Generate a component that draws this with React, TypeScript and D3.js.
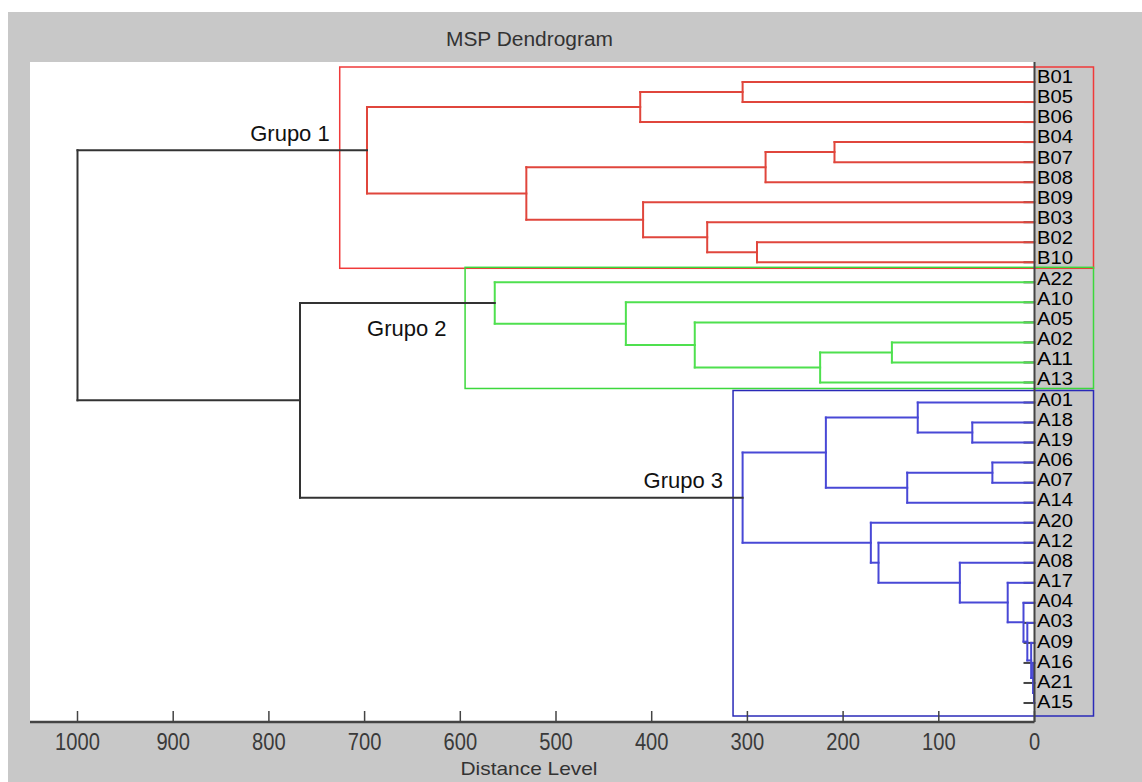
import React, { useMemo } from "react";
import * as d3 from "d3";

// leaf order, top to bottom
const leafNames = [
  "B01", "B05", "B06", "B04", "B07", "B08", "B09", "B03", "B02", "B10",
  "A22", "A10", "A05", "A02", "A11", "A13",
  "A01", "A18", "A19", "A06", "A07", "A14", "A20", "A12", "A08", "A17",
  "A04", "A03", "A09", "A16", "A21", "A15",
];

// merges: [id, left, right, distance]
const linkage: [string, string, string, number][] = [
  ["b1", "B01", "B05", 305],
  ["b2", "b1", "B06", 412],
  ["b3", "B04", "B07", 209],
  ["b4", "b3", "B08", 281],
  ["b5", "B02", "B10", 290],
  ["b6", "B03", "b5", 342],
  ["b7", "B09", "b6", 409],
  ["b8", "b4", "b7", 531],
  ["G1", "b2", "b8", 697.5],
  ["a1", "A02", "A11", 149],
  ["a2", "a1", "A13", 224],
  ["a3", "A05", "a2", 355],
  ["a4", "A10", "a3", 427],
  ["G2", "A22", "a4", 564],
  ["c1", "A18", "A19", 65],
  ["c2", "A01", "c1", 122],
  ["c3", "A06", "A07", 44],
  ["c4", "c3", "A14", 133],
  ["c5", "c2", "c4", 218],
  ["c6", "A21", "A15", 0.5],
  ["c7", "A16", "c6", 1.5],
  ["c8", "A09", "c7", 3.5],
  ["c9", "A03", "c8", 7.5],
  ["c10", "A04", "c9", 11.5],
  ["c11", "A17", "c10", 28],
  ["c12", "A08", "c11", 78],
  ["c13", "A12", "c12", 163],
  ["c14", "A20", "c13", 171],
  ["G3", "c5", "c14", 305],
  ["k1", "G2", "G3", 767.5],
  ["k2", "G1", "k1", 1000],
];

const groupLabels = ["Grupo 1", "Grupo 2", "Grupo 3"];
const groupRoots = ["G1", "G2", "G3"];
const groupBoxLeft = [726, 595, 315]; // distance where each box starts
const distanceTicks = [1000, 900, 800, 700, 600, 500, 400, 300, 200, 100, 0];

const lineColors = ["#e0463c", "#4fe04f", "#4848d6"];
const boxColors = ["#f03a3a", "#3cd83c", "#2a2ab8"];
const FONT = "'Liberation Sans', Arial, sans-serif";

export default function App() {
  const W = 1142;
  const H = 782;
  const plot = { left: 30, top: 62, right: 1034.5, bottom: 722 };

  const x = d3.scaleLinear().domain([0, 1000]).range([1034.5, 77.5]);
  const yLeaf = d3.scalePoint().domain(leafNames).range([82, 703]);
  const yLabel = d3.scalePoint().domain(leafNames).range([76, 701]);

  const tree = useMemo(() => {
    const pos: Record<string, { y: number; h: number }> = {};
    leafNames.forEach((n) => (pos[n] = { y: yLeaf(n) as number, h: 0 }));
    const children: Record<string, string[]> = {};
    linkage.forEach(([id, a, b, d]) => {
      pos[id] = { y: (pos[a].y + pos[b].y) / 2, h: d };
      children[id] = [a, b];
    });
    // colour each merge by the group it sits in
    const color: Record<string, string> = {};
    const groupLeaves: string[][] = [];
    groupRoots.forEach((r, gi) => {
      const leaves: string[] = [];
      const walk = (n: string) => {
        if (children[n]) {
          color[n] = lineColors[gi];
          children[n].forEach(walk);
        } else leaves.push(n);
      };
      walk(r);
      groupLeaves.push(leaves);
    });
    const segs: { x1: number; y1: number; x2: number; y2: number; c: string }[] = [];
    linkage.forEach(([id, a, b]) => {
      const c = color[id] || "#333";
      const p = pos[id];
      segs.push({ x1: x(p.h), y1: pos[a].y, x2: x(p.h), y2: pos[b].y, c });
      [a, b].forEach((ch) => {
        segs.push({ x1: x(p.h), y1: pos[ch].y, x2: x(pos[ch].h), y2: pos[ch].y, c });
      });
    });
    return { pos, segs, groupLeaves };
  }, []);

  const labelOffsets = [
    { dx: -10, dy: -9 },
    { dx: -98, dy: 33 },
    { dx: -10, dy: -10 },
  ];

  return (
    <svg
      width={W}
      height={H}
      style={{ position: "absolute", left: 0, top: 0, background: "#fff" }}
    >
      <rect x={8} y={12} width={W - 8} height={H - 12} fill="#c8c8c8" />
      <rect
        x={plot.left}
        y={plot.top}
        width={plot.right - plot.left}
        height={plot.bottom - plot.top}
        fill="#fff"
      />

      <text
        x={529.5}
        y={46}
        textAnchor="middle"
        fontFamily={FONT}
        fontSize={20}
        fill="#333"
        textLength={167}
        lengthAdjust="spacingAndGlyphs"
      >
        MSP Dendrogram
      </text>

      {/* leaf ticks on right axis */}
      {leafNames.map((n) => (
        <line
          key={"t" + n}
          x1={plot.right - 11}
          x2={plot.right}
          y1={yLeaf(n)}
          y2={yLeaf(n)}
          stroke="#444"
          strokeWidth={2}
        />
      ))}

      {/* group boxes */}
      {tree.groupLeaves.map((leaves, gi) => {
        const top = (yLeaf(leaves[0]) as number) - (gi === 2 ? 12 : 15);
        const bot =
          gi === groupRoots.length - 1
            ? plot.bottom - 6
            : (yLeaf(leaves[leaves.length - 1]) as number) + 6;
        const left = x(groupBoxLeft[gi]);
        return (
          <rect
            key={"box" + gi}
            x={left}
            y={top}
            width={1093.5 - left}
            height={bot - top}
            fill="none"
            stroke={boxColors[gi]}
            strokeWidth={1.5}
          />
        );
      })}

      {/* dendrogram links */}
      <g strokeWidth={2} strokeLinecap="square">
        {tree.segs.map((s, i) => (
          <line key={i} x1={s.x1} y1={s.y1} x2={s.x2} y2={s.y2} stroke={s.c} />
        ))}
      </g>

      {/* axes */}
      <line
        x1={plot.right}
        x2={plot.right}
        y1={plot.top}
        y2={plot.bottom}
        stroke="#444"
        strokeWidth={2}
      />
      <line
        x1={plot.left}
        x2={plot.right}
        y1={plot.bottom}
        y2={plot.bottom}
        stroke="#444"
        strokeWidth={2.5}
      />
      {distanceTicks.map((t) => (
        <g key={"xt" + t}>
          <line
            x1={x(t)}
            x2={x(t)}
            y1={plot.bottom - 11}
            y2={plot.bottom}
            stroke="#444"
            strokeWidth={1.5}
          />
          <text
            x={x(t)}
            y={750}
            textAnchor="middle"
            fontFamily={FONT}
            fontSize={24}
            fill="#3a3a3a"
            textLength={String(t).length * 11.2}
            lengthAdjust="spacingAndGlyphs"
          >
            {t}
          </text>
        </g>
      ))}
      <text
        x={529}
        y={775}
        textAnchor="middle"
        fontFamily={FONT}
        fontSize={19}
        fill="#333"
        textLength={137}
        lengthAdjust="spacingAndGlyphs"
      >
        Distance Level
      </text>

      {/* leaf labels */}
      {leafNames.map((n) => (
        <text
          key={"l" + n}
          x={1037}
          y={(yLabel(n) as number) + 7}
          fontFamily={FONT}
          fontSize={19}
          fill="#000"
          textLength={36}
          lengthAdjust="spacingAndGlyphs"
        >
          {n}
        </text>
      ))}

      {/* group labels */}
      {groupRoots.map((r, gi) => {
        const o = labelOffsets[gi];
        const bx = x(groupBoxLeft[gi]);
        return (
          <text
            key={"g" + gi}
            x={bx + o.dx}
            y={tree.pos[r].y + o.dy}
            textAnchor={gi === 1 ? "start" : "end"}
            fontFamily={FONT}
            fontSize={22}
            fill="#111"
          >
            {groupLabels[gi]}
          </text>
        );
      })}
    </svg>
  );
}
